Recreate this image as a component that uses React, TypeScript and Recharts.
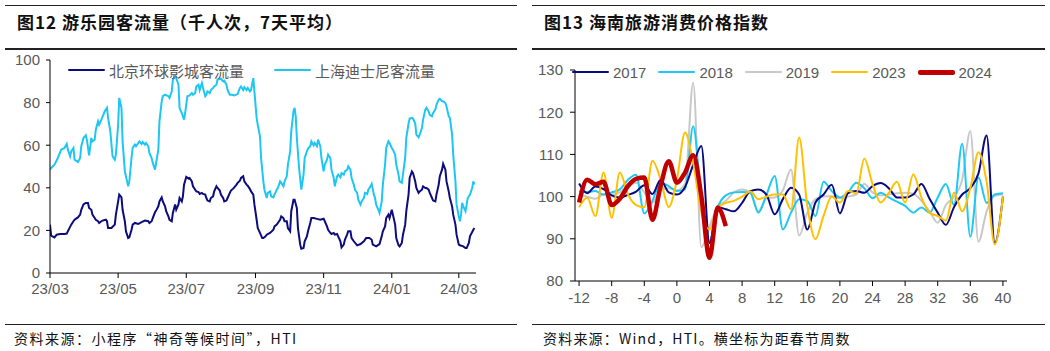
import React from 'react';
import { LineChart, Line, XAxis, YAxis } from 'recharts';

// ---- left chart: theme park visitors (thousand, 7-day avg), x = days since 2023-03-01
const monthTicks = [0, 61, 122, 184, 245, 306, 366];
const monthLabels = ['23/03', '23/05', '23/07', '23/09', '23/11', '24/01', '24/03'];

const universalDay = [0, 1, 4, 6, 9, 13, 15, 16, 19, 21, 22, 25, 27, 28, 30, 32, 34, 35, 37, 38, 40, 41, 43, 44, 46, 47, 50, 51, 52, 55, 58, 59, 61, 62, 64, 65, 67, 68, 70, 71, 73, 74, 76, 79, 82, 85, 88, 89, 91, 92, 94, 95, 97, 98, 100, 101, 103, 104, 106, 107, 109, 110, 112, 113, 115, 116, 118, 119, 120, 122, 124, 125, 127, 128, 130, 131, 133, 134, 136, 137, 139, 140, 141, 143, 144, 146, 147, 149, 150, 152, 153, 155, 156, 158, 159, 161, 162, 164, 165, 167, 168, 170, 171, 173, 174, 176, 177, 179, 180, 182, 183, 185, 186, 188, 190, 191, 193, 194, 197, 200, 201, 203, 204, 206, 207, 209, 210, 212, 213, 215, 216, 218, 219, 221, 222, 224, 225, 227, 228, 230, 231, 233, 234, 236, 239, 242, 245, 246, 248, 249, 251, 252, 254, 255, 257, 258, 260, 261, 263, 264, 266, 267, 269, 270, 272, 275, 278, 281, 283, 286, 288, 289, 292, 295, 297, 298, 300, 301, 303, 304, 306, 307, 309, 310, 312, 313, 315, 316, 318, 319, 321, 322, 324, 325, 327, 328, 330, 331, 333, 334, 336, 337, 339, 340, 342, 343, 345, 346, 348, 349, 351, 352, 354, 355, 357, 358, 360, 361, 363, 364, 366, 367, 370, 372, 373, 375, 376, 379, 380];
const universalFlow = [22.7, 17.5, 16.7, 18, 18.3, 18.3, 18.5, 19.6, 22.7, 24.3, 25, 26.1, 27.4, 29.7, 32.2, 32.9, 32.9, 30.5, 29.7, 27.4, 25.8, 25, 24.3, 23.5, 24.3, 24.6, 25, 24.3, 21.1, 21.1, 22.7, 27.4, 33.6, 36.8, 35.5, 29.7, 24.3, 19.6, 16.4, 16.7, 20.3, 22.7, 23.5, 23, 23.9, 24.6, 24.3, 23.5, 24.3, 25.8, 28.5, 29.3, 31.3, 33.6, 35.5, 33.6, 31.3, 29, 26.6, 25, 24.3, 28.2, 32.2, 29.7, 32.2, 35.2, 33.6, 36, 41.5, 45.1, 44.3, 44.6, 43, 40.7, 39.1, 38.3, 38, 37.1, 37.6, 37.1, 36.8, 35.2, 34, 33.6, 35.2, 36, 38.3, 40.7, 39.9, 38.7, 36.8, 35.2, 33.6, 34, 35.2, 37.6, 38.7, 39.6, 40.2, 41.5, 42.3, 43.3, 44.6, 45.4, 43, 41.5, 41, 39.4, 38.3, 36.8, 32.2, 25, 21.1, 18.8, 16.4, 16.4, 17.2, 18, 18.8, 20.3, 21.9, 22.7, 23.5, 25, 26.6, 25.8, 24.3, 24.3, 21.1, 19.6, 29, 34.4, 34.4, 30.5, 21.1, 13.3, 11.4, 11.7, 14.9, 17.2, 19.6, 23.5, 25.8, 25.8, 25.4, 25, 25.5, 24.3, 21.9, 20.3, 18.8, 18.3, 18.8, 18, 18.3, 17.2, 14.9, 12, 13.3, 15.6, 18, 19.6, 19.6, 16.4, 14.9, 13, 13.6, 14.9, 16.4, 16.4, 15.6, 13.3, 12.5, 13.6, 17.2, 19.6, 21.9, 25.8, 27.4, 25.8, 29.7, 27.4, 22.7, 16.4, 13, 12.5, 14.1, 18, 22.7, 29, 36.8, 44.6, 47.7, 46.9, 43, 39.9, 37.6, 38.3, 39.1, 40.7, 39.9, 39.9, 39.1, 37.6, 35.2, 34, 33.6, 36.8, 41.5, 45.4, 48.5, 51.2, 48.5, 43, 38.3, 35.2, 31.3, 27.4, 22.7, 18, 13.3, 13, 12.5, 11.7, 11.7, 14.1, 17.2, 20.3, 21.1];

const disneyDay = [0, 1, 4, 7, 10, 13, 15, 16, 18, 19, 21, 22, 25, 27, 28, 30, 32, 33, 35, 37, 38, 40, 41, 43, 44, 46, 49, 51, 52, 54, 56, 58, 59, 61, 62, 64, 65, 67, 70, 71, 73, 74, 76, 77, 79, 80, 82, 83, 85, 86, 88, 89, 91, 92, 94, 97, 98, 100, 101, 103, 106, 107, 109, 110, 112, 113, 115, 116, 118, 120, 121, 123, 125, 127, 128, 130, 131, 133, 134, 136, 137, 139, 140, 141, 143, 144, 146, 147, 149, 150, 153, 155, 156, 158, 159, 161, 163, 165, 168, 170, 171, 173, 174, 176, 177, 179, 180, 182, 183, 185, 186, 188, 189, 191, 192, 194, 195, 197, 198, 200, 201, 203, 204, 206, 207, 209, 210, 212, 213, 215, 216, 218, 219, 220, 221, 223, 225, 227, 228, 230, 231, 233, 234, 236, 237, 239, 240, 242, 243, 245, 246, 248, 249, 251, 252, 254, 255, 257, 258, 260, 261, 263, 264, 266, 267, 269, 270, 272, 273, 275, 276, 278, 279, 281, 282, 284, 285, 287, 288, 290, 291, 292, 294, 295, 297, 298, 300, 301, 303, 304, 306, 307, 309, 310, 312, 313, 315, 316, 318, 319, 321, 322, 324, 325, 327, 328, 330, 331, 333, 334, 336, 337, 339, 340, 342, 343, 345, 346, 348, 349, 351, 352, 354, 355, 357, 358, 360, 361, 363, 364, 366, 367, 368, 369, 370, 372, 373, 374, 376, 378, 379, 380];
const disneyFlow = [48.5, 49.3, 50.9, 54, 57.9, 58.7, 60.6, 57.9, 54.8, 57.1, 58.7, 53.2, 52.1, 54, 59.5, 63.4, 64.6, 62.6, 55.2, 63.4, 61.8, 62.6, 67.3, 71.2, 69.6, 72, 75.9, 77.5, 72.8, 66.5, 54.8, 53.2, 55.6, 69.6, 82.2, 77.5, 61.8, 47.7, 40.7, 43, 54, 58.7, 60.3, 59.5, 61, 61.8, 60.6, 61.5, 60.3, 61, 59.5, 56.3, 54, 51.6, 48.5, 57.9, 71.2, 80.6, 83, 83.7, 83, 82.2, 85.3, 90.8, 92.3, 91.5, 88.5, 77.5, 75.1, 72, 75.1, 83, 83.4, 84.5, 83.7, 84.5, 87.6, 88.4, 85.9, 89.2, 86.9, 83, 83.7, 85.3, 84.5, 85.9, 86.9, 87.6, 88.4, 90.8, 91.2, 90, 90.3, 88.4, 85.9, 83.7, 83.7, 83.4, 84, 86.9, 87.6, 85.9, 87.2, 85.9, 86.9, 85.3, 85.9, 91.5, 85.3, 72.8, 69.6, 64.2, 54, 43, 39.1, 35.2, 37.6, 38.3, 36, 35.5, 36.8, 39.1, 39.9, 43, 42.3, 40.7, 43, 45.4, 50.9, 57.1, 66.5, 75.9, 77.5, 73.6, 63.4, 49.3, 39.1, 46.2, 54, 57.1, 58.4, 59.5, 61.8, 59.9, 61, 59.5, 62.6, 59.5, 54, 47.7, 50.9, 53.2, 55.6, 54, 48.5, 44.6, 40.7, 45.4, 46.2, 44.9, 46.9, 46.2, 47.7, 48.5, 50.1, 48.5, 44.6, 41.5, 39.1, 37.6, 34.4, 32.1, 33.6, 35.2, 37.6, 37.1, 39.1, 40.7, 41.8, 36.8, 35.2, 32.1, 29.7, 28.2, 33.6, 41.5, 50.9, 58.7, 61.8, 61, 58.7, 57.9, 55.6, 50.9, 46.2, 43, 42.3, 46.2, 54, 63.4, 70.2, 72.5, 72.8, 72.5, 70.2, 65, 63.7, 65, 68.1, 72, 76.7, 77.5, 75.9, 74.3, 73.6, 75.1, 76.7, 79, 81.4, 81.8, 80.6, 80.6, 79.8, 78.2, 73.6, 72.8, 65, 55.6, 43, 32.1, 26.6, 24.3, 27.4, 32.9, 31.3, 29, 32.1, 35.2, 36.8, 39.9, 43, 41.5];

// ---- right chart: Hainan tourism CPI, x = weeks from Spring Festival
const weeks = [-12, -11, -10, -9, -8, -7, -6, -5, -4, -3, -2, -1, 0, 1, 2, 3, 4, 5, 6, 7, 8, 9, 10, 11, 12, 13, 14, 15, 16, 17, 18, 19, 20, 21, 22, 23, 24, 25, 26, 27, 28, 29, 30, 31, 32, 33, 34, 35, 36, 37, 38, 39, 40];
const weekTicks = [-12, -8, -4, 0, 4, 8, 12, 16, 20, 24, 28, 32, 36, 40];
const cpi2017 = [103.1, 100.8, 102.4, 101.8, 100.3, 99.8, 100.4, 101.2, 102.7, 100.6, 104, 101, 100.5, 102.3, 107.5, 112, 89, 97.5, 97, 96.5, 98.5, 101.3, 101.7, 100.4, 95.8, 99.4, 102.1, 100.5, 92.2, 98.6, 100.5, 102.8, 96, 100.8, 101.3, 100.9, 102.5, 103.2, 102, 99.8, 99.8, 100.5, 103, 99.5, 96.2, 93.3, 97.5, 100.5, 102, 105.5, 114.5, 89, 100];
const cpi2018 = [101.3, 101.1, 101.3, 100.5, 101, 101.7, 104, 105.2, 96, 99, 103.3, 102.5, 101.3, 101.7, 116.7, 99.5, 89.5, 97.4, 100.3, 101, 101.1, 100.9, 96.2, 100.5, 104.9, 92.2, 96.2, 99.4, 99, 95.4, 103.5, 101.3, 99.8, 101, 103.3, 102, 99.6, 100.9, 99.8, 98.8, 97.8, 96.2, 97.4, 96.2, 99.8, 103, 98, 112.5, 90.5, 104.5, 98.5, 100.5, 100.8];
const cpi2019 = [100.5, 100, 99.5, 100.5, 100.5, 101, 102.5, 103.3, 101, 98.5, 101.5, 102, 101.5, 103, 127, 88, 93, 97.5, 99, 101, 101.7, 101, 96.6, 99.6, 99.8, 101.5, 106.4, 90.8, 96.2, 99.4, 100, 100.1, 99.6, 100, 100.5, 103, 101, 100.3, 100.5, 100.8, 100.9, 100.7, 99, 96.5, 93.8, 98, 100, 104, 115.5, 89.3, 96.5, 100.2, 100.5];
const cpi2023 = [97.5, 99.7, 95.4, 105.7, 95, 105.7, 100.5, 98, 97.5, 108.5, 104.1, 97.5, 104, 115.2, 108, 96.2, 92.2, 97.4, 98.5, 99, 100, 101.2, 99.4, 100, 100.5, 100.5, 97, 114, 97.8, 89.9, 95.5, 100, 98.6, 101.3, 100.8, 109, 103, 98.6, 100.9, 103.5, 98.6, 105.3, 99.8, 96.2, 95.4, 94.3, 101, 96.5, 102, 110.5, 103.5, 88.7, 100];
const cpi2024 = [98.6, 104, 102.9, 103.5, 98, 99.5, 102.5, 104.2, 104.5, 94.5, 102.5, 108.4, 103.3, 105.7, 109.8, 100.1, 85.5, 97.4, 93];

const NUM_FONT = '"Liberation Sans", Arial, sans-serif';
const CJK_FONT = '"Noto Sans CJK SC", sans-serif';
const GREY = '#595959';

const universalData = universalDay.map((d, i) => ({ day: d, v: universalFlow[i] }));
const disneyData = disneyDay.map((d, i) => ({ day: d, v: disneyFlow[i] }));
const cpiData = weeks.map((w, i) => ({
  week: w,
  y2017: cpi2017[i],
  y2018: cpi2018[i],
  y2019: cpi2019[i],
  y2023: cpi2023[i],
  y2024: i < cpi2024.length ? cpi2024[i] : null,
}));

const tickStyle = { fill: GREY, fontSize: 15, fontFamily: NUM_FONT };

type Item = { label: string; color: string; width: number; gap: number };

// legend drawn as a plain overlay so it doesn't push the plot area down
function LegendRow({ items, font, size, left, top }: { items: Item[]; font: string; size: number; left: number; top: number }) {
  return (
    <div style={{ position: 'absolute', left, top, display: 'flex', alignItems: 'center', height: 16 }}>
      {items.map((it) => (
        <div key={it.label} style={{ display: 'flex', alignItems: 'center', marginRight: it.gap }}>
          <div style={{ width: 37, height: 0, borderTop: `${it.width}px solid ${it.color}`, borderRadius: 2 }} />
          <span style={{ marginLeft: 4, color: GREY, fontFamily: font, fontSize: size, lineHeight: 1 }}>{it.label}</span>
        </div>
      ))}
    </div>
  );
}

function Frame({ left, width, title }: { left: number; width: number; title: string }) {
  return (
    <>
      <div style={{ position: 'absolute', left, top: 5, width, borderTop: '1px solid #222' }} />
      <div style={{ position: 'absolute', left: left + 12, top: 9, fontFamily: CJK_FONT, fontWeight: 700, fontSize: 17, letterSpacing: 1, color: '#111', whiteSpace: 'nowrap' }}>
        {title}
      </div>
      <div style={{ position: 'absolute', left, top: 48, width, borderTop: '2px solid #222' }} />
      <div style={{ position: 'absolute', left, top: 324, width, borderTop: '1.5px solid #222' }} />
    </>
  );
}

function ParkChart() {
  return (
    <LineChart width={520} height={320} margin={{ top: 60, right: 44, bottom: 17, left: 10 }}>
      <XAxis
        type="number"
        dataKey="day"
        domain={[0, 381.4]}
        ticks={monthTicks}
        tickFormatter={(v: number) => monthLabels[monthTicks.indexOf(v)] ?? ''}
        tick={tickStyle}
        tickSize={5}
        tickMargin={5}
        height={30}
        stroke="#000"
        allowDataOverflow
      />
      <YAxis
        type="number"
        domain={[0, 100]}
        ticks={[0, 20, 40, 60, 80, 100]}
        tick={tickStyle}
        tickSize={4}
        tickMargin={6}
        width={40}
        stroke="#000"
      />
      <Line data={disneyData} dataKey="v" name="上海迪士尼客流量" type="linear" stroke="#1EC6F4" strokeWidth={2} dot={false} isAnimationActive={false} />
      <Line data={universalData} dataKey="v" name="北京环球影城客流量" type="linear" stroke="#0C0C7C" strokeWidth={2} dot={false} isAnimationActive={false} />
    </LineChart>
  );
}

function CpiChart() {
  return (
    <LineChart width={525} height={330} data={cpiData} margin={{ top: 70, right: 43, bottom: 19, left: 10 }}>
      <XAxis
        type="number"
        dataKey="week"
        domain={[-12.5, 40.5]}
        ticks={weekTicks}
        tick={tickStyle}
        tickSize={5}
        tickMargin={6}
        height={30}
        stroke="#000"
      />
      <YAxis
        type="number"
        domain={[80, 130]}
        ticks={[80, 90, 100, 110, 120, 130]}
        tick={tickStyle}
        tickSize={5}
        tickMargin={7}
        width={40}
        stroke="#000"
        allowDataOverflow
      />
      <Line dataKey="y2019" type="monotone" stroke="#C8C8C8" strokeWidth={2} dot={false} isAnimationActive={false} />
      <Line dataKey="y2018" type="monotone" stroke="#1EC8F4" strokeWidth={2} dot={false} isAnimationActive={false} />
      <Line dataKey="y2017" type="monotone" stroke="#0A0A80" strokeWidth={2} dot={false} isAnimationActive={false} />
      <Line dataKey="y2023" type="monotone" stroke="#FFC000" strokeWidth={2} dot={false} isAnimationActive={false} />
      <Line dataKey="y2024" type="monotone" stroke="#C00000" strokeWidth={4.5} dot={false} isAnimationActive={false} connectNulls={false} />
    </LineChart>
  );
}

export default function App() {
  return (
    <div style={{ position: 'absolute', left: 0, top: 0, width: 1050, height: 351, background: '#fff', overflow: 'hidden' }}>
      <Frame left={5} width={512} title="图12 游乐园客流量（千人次，7天平均）" />
      <Frame left={532} width={513} title="图13 海南旅游消费价格指数" />
      <div style={{ position: 'absolute', left: 0, top: 0 }}>
        <ParkChart />
      </div>
      <div style={{ position: 'absolute', left: 525, top: 0 }}>
        <CpiChart />
      </div>
      <LegendRow
        left={68}
        top={62}
        font={CJK_FONT}
        size={15}
        items={[
          { label: '北京环球影城客流量', color: '#0C0C7C', width: 2, gap: 30 },
          { label: '上海迪士尼客流量', color: '#1EC6F4', width: 2, gap: 0 },
        ]}
      />
      <LegendRow
        left={572}
        top={64}
        font={NUM_FONT}
        size={15}
        items={[
          { label: '2017', color: '#0A0A80', width: 2, gap: 12 },
          { label: '2018', color: '#1EC8F4', width: 2, gap: 12 },
          { label: '2019', color: '#C8C8C8', width: 2, gap: 12 },
          { label: '2023', color: '#FFC000', width: 2, gap: 12 },
          { label: '2024', color: '#C00000', width: 5, gap: 0 },
        ]}
      />
      <div style={{ position: 'absolute', left: 14, top: 328, fontFamily: CJK_FONT, fontSize: 14, color: '#111', whiteSpace: 'nowrap', letterSpacing: 1.5 }}>
        资料来源：小程序“神奇等候时间”，HTI
      </div>
      <div style={{ position: 'absolute', left: 543, top: 328, fontFamily: CJK_FONT, fontSize: 14, color: '#111', whiteSpace: 'nowrap', letterSpacing: 1.2 }}>
        资料来源：Wind，HTI。横坐标为距春节周数
      </div>
    </div>
  );
}
